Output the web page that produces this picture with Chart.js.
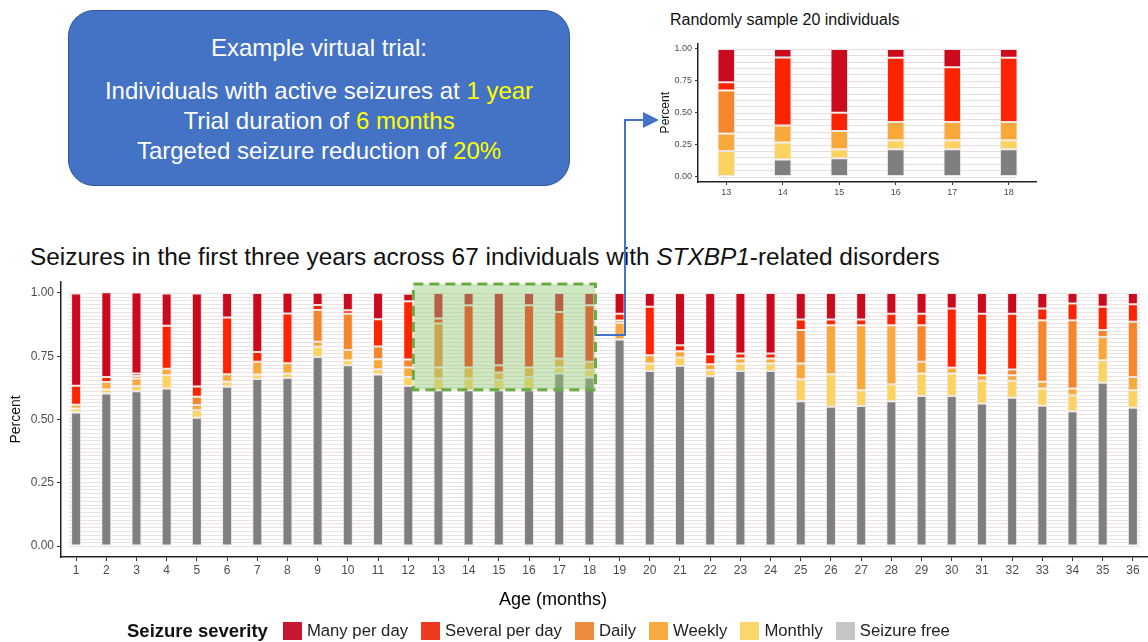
<!DOCTYPE html>
<html>
<head>
<meta charset="utf-8">
<script src="https://cdn.jsdelivr.net/npm/chart.js@4.4.1/dist/chart.umd.min.js"></script>
<style>
  body { margin:0; width:1148px; height:642px; position:relative; background:#fff; font-family:"Liberation Sans", Arial, sans-serif; overflow:hidden; }
  .abs { position:absolute; }
  #trialBox { left:68px; top:10px; width:500px; height:174px; border-radius:26px; background:#4472c4; border:1.5px solid #2f5597; color:#fff; text-align:center; font-size:24px; }
  #trialBox .hd { margin-top:22px; line-height:30px; margin-bottom:13px; }
  #trialBox .ln { line-height:30px; }
  #trialBox .hl { color:#ffff00; }
  #mainTitle { left:30px; top:243px; font-size:24.4px; color:#111; white-space:nowrap; }
  #insetTitle { left:670px; top:11px; font-size:16px; color:#111; white-space:nowrap; }
  #xTitle { left:453px; width:200px; top:589px; text-align:center; font-size:18px; color:#000; }
  #legend { left:127px; top:620px; display:flex; align-items:center; font-size:16.7px; color:#222; white-space:nowrap; }
  #legend b { font-size:18.5px; margin-right:15px; color:#111; }
  #legend .sw { width:19px; height:18px; margin-right:5px; }
  #legend .it { margin-right:13px; }
</style>
</head>
<body>
<div id="trialBox" class="abs">
  <div class="hd">Example virtual trial:</div>
  <div class="ln">Individuals with active seizures at <span class="hl">1 year</span></div>
  <div class="ln">Trial duration of <span class="hl">6 months</span></div>
  <div class="ln">Targeted seizure reduction of <span class="hl">20%</span></div>
</div>
<div id="insetTitle" class="abs">Randomly sample 20 individuals</div>
<div id="mainTitle" class="abs">Seizures in the first three years across 67 individuals with <i>STXBP1</i>-related disorders</div>
<canvas id="insetChart" class="abs" width="387" height="165" style="left:650px;top:35px;"></canvas>
<canvas id="mainChart" class="abs" width="1148" height="345" style="left:0;top:270px;"></canvas>
<div id="xTitle" class="abs">Age (months)</div>
<svg class="abs" width="1148" height="642" style="left:0;top:0;pointer-events:none;">
  <defs><marker id="ah" markerWidth="8" markerHeight="8" refX="6" refY="4" orient="auto"><path d="M0,0 L8,4 L0,8 z" fill="#4472c4"/></marker></defs>
  <polyline points="596,335 625,335 625,120 655,120" fill="none" stroke="#4472c4" stroke-width="2" marker-end="url(#ah)"/>
</svg>
<div id="legend" class="abs"></div>

<script>
// main chart data (share of 67 individuals per month)
const months = ['1','2','3','4','5','6','7','8','9','10','11','12','13','14','15','16','17','18',
  '19','20','21','22','23','24','25','26','27','28','29','30','31','32','33','34','35','36'];
const seizureFree = [0.528,0.603,0.612,0.622,0.507,0.629,0.660,0.664,0.747,0.714,0.678,0.632,0.616,0.616,0.616,0.616,0.682,0.666,
  0.816,0.692,0.711,0.671,0.692,0.692,0.572,0.550,0.553,0.572,0.593,0.593,0.563,0.586,0.554,0.533,0.645,0.546];
const monthly = [0.015,0.015,0.020,0.053,0.030,0.020,0.018,0.018,0.040,0.020,0.020,0.036,0.046,0.046,0.040,0.052,0.023,0.029,
  0.000,0.029,0.034,0.024,0.029,0.029,0.087,0.129,0.063,0.067,0.089,0.089,0.090,0.067,0.068,0.063,0.089,0.070];
const weekly = [0.015,0.030,0.030,0.025,0.020,0.030,0.050,0.040,0.020,0.040,0.040,0.037,0.043,0.043,0.030,0.037,0.036,0.033,
  0.065,0.033,0.025,0.023,0.020,0.020,0.062,0.193,0.256,0.233,0.046,0.022,0.022,0.022,0.027,0.026,0.092,0.052];
const daily = [0,0,0.010,0,0.033,0,0,0,0.125,0.144,0.050,0.032,0.174,0,0,0,0,0,
  0.010,0,0,0,0,0,0.132,0,0,0,0.144,0,0,0.022,0.243,0.270,0.027,0.218];
const severalPerDay = [0.075,0.020,0.010,0.170,0.040,0.224,0.039,0.197,0.020,0.013,0.108,0.230,0.020,0.246,0.028,0.246,0.184,0.223,
  0.027,0.191,0.023,0.040,0.020,0.020,0.042,0.023,0.023,0.046,0.046,0.234,0.243,0.221,0.046,0.066,0.092,0.069];
const manyPerDay = [0.365,0.335,0.320,0.128,0.368,0.097,0.233,0.082,0.049,0.069,0.105,0.030,0.101,0.049,0.286,0.049,0.075,0.049,
  0.082,0.055,0.207,0.242,0.239,0.239,0.105,0.105,0.105,0.082,0.082,0.062,0.082,0.082,0.062,0.042,0.055,0.045];

// inset: random sample of 20, months 13-18
const insetMonths = ['13','14','15','16','17','18'];
const insetFree = [0, 0.133, 0.143, 0.214, 0.214, 0.214];
const insetMonthly = [0.200, 0.133, 0.071, 0.071, 0.071, 0.071];
const insetWeekly = [0.138, 0.133, 0.143, 0.143, 0.143, 0.143];
const insetDaily = [0.335, 0, 0, 0, 0, 0];
const insetSeveral = [0.065, 0.533, 0.143, 0.502, 0.429, 0.502];
const insetMany = [0.262, 0.068, 0.500, 0.070, 0.143, 0.070];

const yTicks = [0, 0.25, 0.5, 0.75, 1];
const severityLabels = ['Many per day','Several per day','Daily','Weekly','Monthly','Seizure free'];
const barColors = ['#cc0a1e','#ff2400','#f5862b','#f9a83a','#fdd35f','#7f7f7f'];
const legendColors = ['#c8172f','#ef3a22','#f08a3c','#f9ab40','#fcd66c','#c6c6c6'];

// legend (html, ggplot style)
const lg = document.getElementById('legend');
lg.innerHTML = '<b>Seizure severity</b>' + severityLabels.map((l,i) =>
  '<span class="sw" style="background:'+legendColors[i]+'"></span><span class="it">'+l+'</span>').join('');

// faint horizontal strata lines, one per individual
const strataLines = {
  id: 'strataLines',
  beforeDatasetsDraw(chart, args, o) {
    const {ctx, scales:{x, y}} = chart;
    const x0 = x.getPixelForValue(0) - 8, x1 = x.getPixelForValue(x.ticks.length - 1) + 8;
    ctx.save();
    ctx.strokeStyle = o.color; ctx.lineWidth = 1;
    for (let i = 0; i <= o.n; i++) {
      const py = Math.round(y.getPixelForValue(i / o.n)) + 0.5;
      ctx.beginPath(); ctx.moveTo(x0, py); ctx.lineTo(x1, py); ctx.stroke();
    }
    ctx.restore();
  }
};

// green dashed box marking the trial window
const windowBox = {
  id: 'windowBox',
  afterDatasetsDraw(chart, args, o) {
    if (!o.show) return;
    const {ctx, scales:{x, y}} = chart;
    const l = x.getPixelForValue(o.from), r = x.getPixelForValue(o.to);
    const t = y.getPixelForValue(y.max) + 2, b = y.getPixelForValue(o.bottom);
    ctx.save();
    ctx.fillStyle = 'rgba(150,205,120,0.45)';
    ctx.fillRect(l, t, r - l, b - t);
    ctx.setLineDash([10, 6]);
    ctx.lineWidth = 3;
    ctx.strokeStyle = '#6aab45';
    ctx.strokeRect(l, t, r - l, b - t);
    ctx.restore();
  }
};

function makeSets(arrs, bp) {
  // stacked bottom to top: free, monthly, weekly, daily, several, many
  const order = [5,4,3,2,1,0];
  return order.map((ci, k) => ({
    label: severityLabels[ci], data: arrs[k], backgroundColor: barColors[ci],
    borderColor: 'rgba(235,225,225,0.9)', borderWidth: 1, borderSkipped: false,
    barPercentage: bp, categoryPercentage: 1
  }));
}

function axes(yw, xh, fs, tfs, ttPad, tl) {
  return {
    x: {
      stacked: true, offset: true,
      grid: { display: true, drawOnChartArea: false, drawTicks: true, tickLength: tl, color: '#333', offset: false },
      border: { display: true, color: '#222', width: 1.5 },
      ticks: { color: '#4d4d4d', font: { size: fs, family: 'Liberation Sans' }, padding: 2, maxRotation: 0, autoSkip: false },
      afterFit: s => { s.height = xh; }
    },
    y: {
      stacked: true, min: -0.043, max: 1.043,
      afterBuildTicks: s => { s.ticks = yTicks.map(v => ({ value: v })); },
      grid: { display: true, drawOnChartArea: false, drawTicks: true, tickLength: tl, color: '#333' },
      border: { display: true, color: '#222', width: 1.5 },
      ticks: { color: '#4d4d4d', font: { size: fs, family: 'Liberation Sans' }, padding: 3, callback: v => v.toFixed(2) },
      title: { display: true, text: 'Percent', color: '#111', font: { size: tfs, family: 'Liberation Sans' }, padding: { top: ttPad, bottom: 0 } },
      afterFit: s => { s.width = yw; }
    }
  };
}

new Chart(document.getElementById('mainChart'), {
  type: 'bar',
  data: { labels: months, datasets: makeSets([seizureFree, monthly, weekly, daily, severalPerDay, manyPerDay], 0.33) },
  options: {
    responsive: false, animation: false,
    layout: { padding: { top: 12, right: 0, left: 0, bottom: 0 } },
    plugins: { legend: { display: false }, tooltip: { enabled: false },
      strataLines: { n: 67, color: 'rgba(215,198,200,0.5)' },
      windowBox: { show: true, from: 11.17, to: 17.2, bottom: 0.617 } },
    scales: axes(61, 58, 12, 14, 8, 4)
  },
  plugins: [strataLines, windowBox]
});

new Chart(document.getElementById('insetChart'), {
  type: 'bar',
  data: { labels: insetMonths, datasets: makeSets([insetFree, insetMonthly, insetWeekly, insetDaily, insetSeveral, insetMany], 0.31) },
  options: {
    responsive: false, animation: false,
    layout: { padding: { top: 7, right: 0, left: 0, bottom: 0 } },
    plugins: { legend: { display: false }, tooltip: { enabled: false },
      strataLines: { n: 20, color: 'rgba(215,198,200,0.6)' },
      windowBox: { show: false } },
    scales: axes(48, 18, 9, 12, 8, 3)
  },
  plugins: [strataLines, windowBox]
});
</script>
</body>
</html>
